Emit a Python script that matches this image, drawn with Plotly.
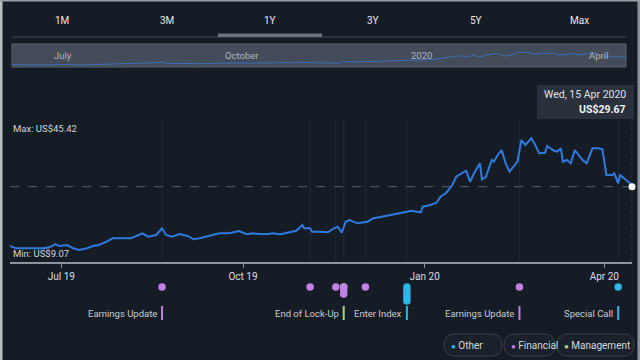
import plotly.graph_objects as go

# ---------------- data ----------------
dates = [
    "2019-06-05", "2019-06-08", "2019-06-15", "2019-06-22", "2019-06-25", "2019-06-28", "2019-06-30",
    "2019-07-04", "2019-07-07", "2019-07-10", "2019-07-14", "2019-07-17", "2019-07-20", "2019-07-24",
    "2019-07-27", "2019-08-01", "2019-08-05", "2019-08-08", "2019-08-11", "2019-08-14", "2019-08-18",
    "2019-08-21", "2019-08-23", "2019-08-26", "2019-08-30", "2019-09-03", "2019-09-06", "2019-09-09",
    "2019-09-14", "2019-09-19", "2019-09-24", "2019-09-29", "2019-10-01", "2019-10-03", "2019-10-06",
    "2019-10-09", "2019-10-14", "2019-10-16", "2019-10-20", "2019-10-25", "2019-10-28", "2019-10-31",
    "2019-11-01", "2019-11-04", "2019-11-05", "2019-11-09", "2019-11-13", "2019-11-16", "2019-11-18",
    "2019-11-20", "2019-11-22", "2019-11-24", "2019-11-26", "2019-11-28", "2019-12-03", "2019-12-06",
    "2019-12-09", "2019-12-13", "2019-12-18", "2019-12-23", "2019-12-25", "2019-12-30", "2019-12-31",
    "2020-01-04", "2020-01-07", "2020-01-09", "2020-01-12", "2020-01-15", "2020-01-17", "2020-01-20",
    "2020-01-22", "2020-01-24", "2020-01-26", "2020-01-29", "2020-01-30", "2020-02-01", "2020-02-04",
    "2020-02-05", "2020-02-07", "2020-02-09", "2020-02-11", "2020-02-13", "2020-02-17", "2020-02-19",
    "2020-02-21", "2020-02-24", "2020-02-26", "2020-02-28", "2020-03-02", "2020-03-03", "2020-03-06",
    "2020-03-08", "2020-03-10", "2020-03-11", "2020-03-13", "2020-03-15", "2020-03-17", "2020-03-19",
    "2020-03-21", "2020-03-23", "2020-03-26", "2020-03-29", "2020-03-31", "2020-04-02", "2020-04-05",
    "2020-04-06", "2020-04-08", "2020-04-09", "2020-04-11", "2020-04-14", "2020-04-15",
]
prices = [
    10.37, 9.62, 9.62, 9.62, 9.95, 11.02, 10.37,
    10.70, 9.62, 9.07, 9.62, 10.37, 10.70, 11.77,
    12.88, 12.88, 12.88, 13.63, 14.51, 13.40, 13.95,
    16.13, 13.95, 13.40, 14.28, 13.63, 12.55, 12.88,
    13.63, 14.51, 14.51, 15.25, 14.70, 14.18, 14.51,
    14.28, 14.28, 14.51, 14.18, 15.03, 15.35, 17.21,
    16.13, 16.13, 15.03, 15.03, 14.83, 16.13, 16.65,
    14.70, 18.28, 18.83, 18.28, 17.76, 18.28, 19.39,
    19.71, 20.23, 20.69, 21.53, 21.86, 21.34, 23.16,
    23.71, 24.46, 26.42, 27.72, 30.22, 32.92, 34.23,
    34.88, 31.30, 34.03, 37.28, 32.08, 32.92, 38.36,
    37.81, 39.99, 41.61, 37.28, 34.55, 37.87, 44.87,
    43.24, 45.42, 43.24, 40.54, 40.73, 42.91, 41.61,
    41.06, 42.17, 37.81, 38.36, 37.28, 41.61, 39.99,
    38.36, 37.28, 42.17, 42.17, 41.84, 33.48, 33.48,
    34.03, 30.78, 33.48, 32.40, 30.78, 29.67,
]

tick_dates = ["2019-07-01", "2019-10-01", "2020-01-01", "2020-04-01"]
tick_labels = ["Jul 19", "Oct 19", "Jan 20", "Apr 20"]
nav_labels = ["July", "October", "2020", "April"]
range_buttons = ["1M", "3M", "1Y", "3Y", "5Y", "Max"]
active_button = "1Y"

event_dates = ["2019-08-21", "2019-11-04", "2019-11-17", "2019-11-21", "2019-11-21", "2019-11-21",
               "2019-11-21", "2019-12-02", "2019-12-23", "2019-12-23", "2019-12-23", "2019-12-23",
               "2019-12-23", "2020-02-18", "2020-04-08"]
event_types = ["Financial", "Financial", "Financial", "Management", "Financial", "Financial",
               "Financial", "Financial", "Other", "Other", "Other", "Other",
               "Other", "Financial", "Other"]

label_dates = ["2019-08-21", "2019-11-21", "2019-12-23", "2020-02-18", "2020-04-08"]
label_texts = ["Earnings Update", "End of Lock-Up", "Enter Index", "Earnings Update", "Special Call"]
label_types = ["Financial", "Management", "Other", "Financial", "Other"]

legend_names = ["Other", "Financial", "Management"]

max_price = 45.42
min_price = 9.07
last_date = "2020-04-15"
last_price = 29.67
tooltip_date = "Wed, 15 Apr 2020"

# ---------------- style ----------------
W, H = 640, 360
BG = "#161c25"
LINE = "#2f7ae0"
TXT = "#d3d6db"
COL = {"Other": "#2db6e8", "Financial": "#c27fe6", "Management": "#a3d687"}
FONT = "Roboto"


def px(x):
    return x / W


def py(y):
    return 1 - y / H


def rrect(x0, y0, x1, y1, r):
    X, Y = px, py
    return (f"M {X(x0 + r)},{Y(y0)} L {X(x1 - r)},{Y(y0)} Q {X(x1)},{Y(y0)} {X(x1)},{Y(y0 + r)} "
            f"L {X(x1)},{Y(y1 - r)} Q {X(x1)},{Y(y1)} {X(x1 - r)},{Y(y1)} "
            f"L {X(x0 + r)},{Y(y1)} Q {X(x0)},{Y(y1)} {X(x0)},{Y(y1 - r)} "
            f"L {X(x0)},{Y(y0 + r)} Q {X(x0)},{Y(y0)} {X(x0 + r)},{Y(y0)} Z")


def note(x, y, text, size=10, color=TXT, xanchor="center", xref="paper", xshift=0):
    return dict(x=x, y=y, xref=xref, yref="paper", xanchor=xanchor, yanchor="middle",
                xshift=xshift, text=text, showarrow=False,
                font=dict(family=FONT, size=size, color=color))


fig = go.Figure()

# main price line
fig.add_trace(go.Scatter(x=dates, y=prices, mode="lines", line=dict(color=LINE, width=2),
                         xaxis="x", yaxis="y", hoverinfo="skip", showlegend=False))
# last point marker
fig.add_trace(go.Scatter(x=[last_date], y=[last_price], mode="markers",
                         marker=dict(color="white", size=7), cliponaxis=False,
                         xaxis="x", yaxis="y", hoverinfo="skip", showlegend=False))
# navigator line
fig.add_trace(go.Scatter(x=dates, y=prices, mode="lines", line=dict(color="#3d6fb8", width=1),
                         xaxis="x2", yaxis="y2", hoverinfo="skip", showlegend=False))

# events (stacked per date and category)
stack = {}
ev_y = []
for d, t in zip(event_dates, event_types):
    k = stack.get((d, t), 0)
    ev_y.append(-25 - 3.5 * k)
    stack[(d, t)] = k + 1
for cat in ["Management", "Other", "Financial"]:
    xs = [d for d, t in zip(event_dates, event_types) if t == cat]
    ys = [y for y, t in zip(ev_y, event_types) if t == cat]
    fig.add_trace(go.Scatter(x=xs, y=ys, mode="markers", marker=dict(color=COL[cat], size=7.5),
                             xaxis="x", yaxis="y3", hoverinfo="skip", showlegend=False,
                             cliponaxis=False))

shapes = []
annotations = []

# frame strips
shapes.append(dict(type="rect", xref="paper", yref="paper", x0=0, x1=px(2.5), y0=0, y1=1,
                   fillcolor="#b8bdc4", line=dict(width=0)))
shapes.append(dict(type="rect", xref="paper", yref="paper", x0=px(637.5), x1=1, y0=0, y1=1,
                   fillcolor="#8d939b", line=dict(width=0)))
shapes.append(dict(type="rect", xref="paper", yref="paper", x0=0, x1=1, y0=py(1.5), y1=1,
                   fillcolor="#9aa0a8", line=dict(width=0)))

# top buttons
btn_x = [62, 167, 270, 373, 476, 579]
for name, bx in zip(range_buttons, btn_x):
    annotations.append(note(px(bx), py(20), name, size=10, color="#e6e8eb"))
shapes.append(dict(type="line", xref="paper", yref="paper", x0=px(12), x1=px(626),
                   y0=py(37), y1=py(37), line=dict(color="#454c58", width=1)))
ai = range_buttons.index(active_button)
shapes.append(dict(type="rect", xref="paper", yref="paper", x0=px(btn_x[ai] - 52), x1=px(btn_x[ai] + 52),
                   y0=py(37), y1=py(33.5), fillcolor="#6b717b", line=dict(width=0)))

# navigator box
shapes.append(dict(type="rect", xref="paper", yref="paper", x0=px(12), x1=px(626), y0=py(67), y1=py(44),
                   fillcolor="#444c59", line=dict(color="#5b6370", width=1), layer="below"))
for d, t in zip(tick_dates, nav_labels):
    annotations.append(note(d, py(55.5), t, size=9.5, color="#aeb4bd", xref="x2"))

# faint event verticals in plot
for d in sorted(set(event_dates)):
    shapes.append(dict(type="line", xref="x", yref="paper", x0=d, x1=d, y0=py(262), y1=py(120),
                       line=dict(color="#212833", width=1), layer="below"))
# hover vertical line
shapes.append(dict(type="line", xref="x", yref="paper", x0=last_date, x1=last_date, y0=py(262), y1=py(119),
                   line=dict(color="#3a424d", width=1, dash="dot"), layer="below"))
# dashed last-price line
shapes.append(dict(type="line", xref="paper", yref="y", x0=px(10), x1=px(632), y0=last_price, y1=last_price,
                   line=dict(color="#59616c", width=1, dash="dash"), layer="below"))

# max / min labels
annotations.append(note(px(11), py(128), f"Max: US${max_price:.2f}", size=9.5, xanchor="left"))
annotations.append(note(px(11), py(253.5), f"Min: US${min_price:.2f}", size=9.5, xanchor="left"))

# tooltip
shapes.append(dict(type="rect", xref="paper", yref="paper", x0=px(537), x1=px(634), y0=py(119), y1=py(85),
                   fillcolor="#2a313c", line=dict(width=0)))
annotations.append(note(px(628), py(95), tooltip_date, size=10.5, color="#dfe2e6", xanchor="right"))
annotations.append(note(px(628), py(109), f"<b>US${last_price:.2f}</b>", size=10.5, color="#f2f3f5",
                        xanchor="right"))

# event labels with coloured bars
for d, t, c in zip(label_dates, label_texts, label_types):
    shapes.append(dict(type="line", xref="x", yref="paper", x0=d, x1=d, y0=py(306), y1=py(320),
                       line=dict(color=COL[c], width=2)))
    annotations.append(note(d, py(313), t, size=9.5, color="#c9cdd4", xanchor="right", xref="x", xshift=-3))

# legend pills
pills = [(444, 502), (504, 555), (557, 634)]
for name, (a, b) in zip(legend_names, pills):
    shapes.append(dict(type="path", xref="paper", yref="paper", path=rrect(a, 334, b, 356, 11),
                       fillcolor="#1b212b", line=dict(color="#3a414c", width=1)))
    annotations.append(note(px(a + 5), py(345),
                            f"<span style='color:{COL[name]};font-size:8px'>●</span> {name}",
                            size=10, color="#d6d9de", xanchor="left"))

fig.update_layout(
    width=W, height=H, margin=dict(l=0, r=0, t=0, b=0),
    paper_bgcolor=BG, plot_bgcolor="rgba(0,0,0,0)",
    showlegend=False,
    xaxis=dict(domain=[px(10), px(632)], range=["2019-06-05", "2020-04-15"], anchor="y",
               tickvals=tick_dates, ticktext=tick_labels, showline=True, linecolor="#8f959d",
               linewidth=1.5, ticks="outside", ticklen=4, tickcolor="#8f959d", showgrid=False,
               zeroline=False, tickfont=dict(family=FONT, size=10, color="#dadde1")),
    yaxis=dict(domain=[1 - 262 / H, 1 - 120 / H], range=[5.17, 51.38], visible=False),
    xaxis2=dict(domain=[px(12), px(626)], range=["2019-06-05", "2020-04-15"], anchor="y2", visible=False),
    yaxis2=dict(domain=[1 - 67 / H, 1 - 44 / H], range=[3.5, 68], visible=False),
    yaxis3=dict(domain=[0, 1 - 262 / H], range=[-98, 0], visible=False, anchor="x"),
    shapes=shapes, annotations=annotations,
)

fig.write_html("out.html", config={"displayModeBar": False},
               post_script="document.body.style.margin='0';document.body.style.overflow='hidden';"
                           "document.body.style.background='" + BG + "';")
